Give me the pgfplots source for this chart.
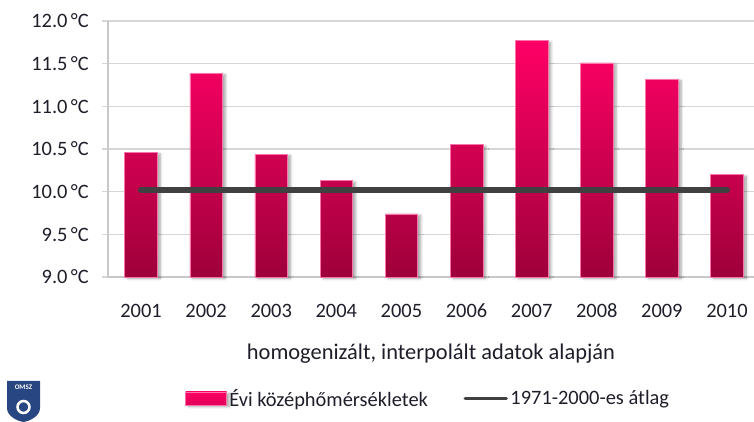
\documentclass[border=0pt]{standalone}
\usepackage{pgfplots}
\pgfplotsset{compat=1.18}
\usepackage{fontspec}
\setmainfont{Carlito}
\usetikzlibrary{shadows.blur}
\definecolor{bartop}{RGB}{255,0,102}
\definecolor{barbot}{RGB}{158,0,58}
\definecolor{avgline}{RGB}{64,64,64}
\definecolor{txt}{RGB}{30,30,42}
\definecolor{gridc}{RGB}{214,214,214}
\definecolor{axc}{RGB}{200,200,200}
\definecolor{logoc}{RGB}{40,70,130}
\begin{document}
\begin{tikzpicture}
\begin{axis}[
  at={(108bp,145bp)}, anchor=south west,
  scale only axis, width=646bp, height=256bp,
  xmin=-0.507, xmax=9.415, ymin=9, ymax=12,
  xtick={0,...,9},
  xticklabels={2001,2002,2003,2004,2005,2006,2007,2008,2009,2010},
  ytick={9,9.5,10,10.5,11,11.5,12},
  yticklabels={9.0\,°C,9.5\,°C,10.0\,°C,10.5\,°C,11.0\,°C,11.5\,°C,12.0\,°C},
  ymajorgrids, grid style={gridc, line width=1.3bp},
  axis x line*=bottom, axis y line*=left,
  axis line style={axc, line width=2bp},
  x axis line style={-}, y axis line style={-},
  tick align=inside,
  major tick length=6bp,
  xtick style={draw=none},
  ytick style={gridc, line width=1.3bp, xshift=-6bp},
  tick label style={font=\fontsize{20.5}{22}\selectfont, text=txt},
  yticklabel style={inner sep=0pt, xshift=-19bp},
  xticklabel style={inner sep=0pt, anchor=base, yshift=-40bp},
  xlabel={homogenizált, interpolált adatok alapján},
  xlabel style={at={(axis description cs:0.5,-0.324)}, anchor=base, inner sep=0pt, font=\fontsize{22.5}{24}\selectfont, text=txt},
  legend style={at={(0.496,-0.4746)}, anchor=center, draw=none, fill=none,
    legend columns=2, font=\fontsize{20.5}{22}\selectfont, text=txt,
    inner sep=0pt, nodes={inner sep=2.5bp},
    /tikz/every even column/.append style={column sep=33bp}},
  clip=false,
]
\addplot[ybar, bar width=0.5, draw=bartop!55!white, line width=0.6bp, top color=bartop, bottom color=barbot,
  blur shadow={shadow xshift=3bp, shadow yshift=-1.5bp, shadow blur steps=6, shadow blur radius=2.5bp, shadow opacity=35},
  area legend,
  legend image code/.code={\fill[top color=bartop!95!barbot, bottom color=bartop!70!barbot] (0bp,-6.5bp) rectangle (41bp,6.5bp);}]
coordinates {(0,10.46) (1,11.39) (2,10.44) (3,10.13) (4,9.74) (5,10.55) (6,11.77) (7,11.51) (8,11.32) (9,10.20)};
\addlegendentry{Évi középhőmérsékletek}
\addplot[avgline, line width=6bp, line cap=round,
  legend image code/.code={\draw[avgline, line width=3.5bp] (0bp,0bp) -- (41bp,0bp);}]
coordinates {(0,10.02) (9,10.02)};
\addlegendentry{1971-2000-es átlag}
\end{axis}
% logo
\fill[logoc] (7bp,41bp) -- (40bp,41bp) -- (40bp,14bp) .. controls (40bp,6bp) and (30bp,1bp) .. (23.5bp,0bp) .. controls (17bp,1bp) and (7bp,6bp) .. (7bp,14bp) -- cycle;
\node[text=white, font=\fontsize{7}{8}\selectfont\bfseries, inner sep=0pt] at (23.5bp,35bp) {OMSZ};
\draw[white, line width=2.5bp] (23.5bp,15bp) circle (6bp);
\pgfresetboundingbox
\path[use as bounding box] (0,0) rectangle (754bp,422bp);
\end{tikzpicture}
\end{document}
